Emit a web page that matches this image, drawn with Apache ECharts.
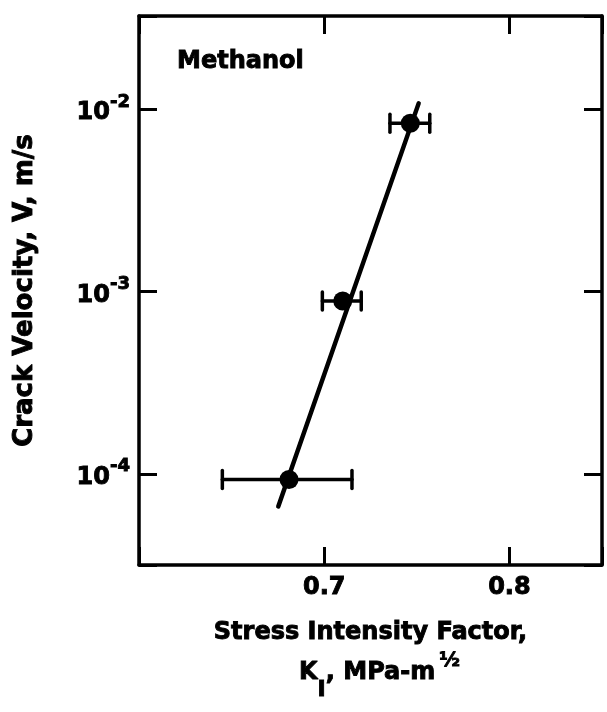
<!DOCTYPE html>
<html>
<head>
<meta charset="utf-8">
<title>Crack velocity vs stress intensity factor — Methanol</title>
<script src="https://cdn.jsdelivr.net/npm/echarts@6/dist/echarts.min.js"></script>
<style>
  html, body { margin: 0; padding: 0; background: #fff; }
  #chart { width: 607px; height: 712px; }
</style>
</head>
<body>
<div id="chart"></div>
<script>
// Measured crack velocities in methanol with the spread of K_I for each point
const kValues    = [0.681, 0.710, 0.7465];       // stress intensity factor, MPa·m^1/2
const velocities = [9.3e-5, 8.85e-4, 8.35e-3];   // crack velocity, m/s
const kLow       = [0.645, 0.699, 0.7355];       // lower end of K_I range
const kHigh      = [0.715, 0.720, 0.757];        // upper end of K_I range

// Fitted log-linear trend line (end points)
const fitK = [0.6752, 0.7510];
const fitV = [6.62e-5, 1.074e-2];

// Axis tick labels
const xTickValues = [0.7, 0.8];
const yTickExponents = [-4, -3, -2];

const FONT = '"DejaVu Sans", "Liberation Sans", Arial, sans-serif';
const INK = '#000';
// a thin outline thickens the bold lettering
const HEAVY = { textBorderColor: INK, textBorderWidth: 0.9 };

const chart = echarts.init(document.getElementById('chart'), null, { renderer: 'canvas' });

const frameLine = { show: true, lineStyle: { color: INK, width: 3.5 } };
const innerTicks = { show: true, inside: true, length: 18, lineStyle: { color: INK, width: 3 } };

function xLabel(v) {
  return xTickValues.some(t => Math.abs(t - v) < 1e-9) ? v.toFixed(1) : '';
}
function yLabel(v) {
  const e = Math.log10(v);
  const hit = yTickExponents.find(t => Math.abs(t - e) < 1e-6);
  return hit === undefined ? '' : '{b|10}{s|' + hit + '}';
}

const xBase = { type: 'value', min: 0.6, max: 0.85, interval: 0.1, splitLine: { show: false },
  axisLine: frameLine, axisTick: innerTicks };
const yBase = { type: 'log', logBase: 10, min: Math.pow(10, -4.5), max: Math.pow(10, -1.49),
  splitLine: { show: false }, minorTick: { show: false }, axisLine: frameLine, axisTick: innerTicks };

const txt = (size, extra) => Object.assign({ fontFamily: FONT, fontWeight: 'bold', fontSize: size, color: INK }, HEAVY, extra || {});

const option = {
  backgroundColor: '#fff',
  animation: false,
  title: {
    text: 'Methanol', left: 172, top: 45,
    textStyle: txt(24)
  },
  grid: { left: 139, right: 5, top: 16, bottom: 147, containLabel: false },
  xAxis: [
    Object.assign({}, xBase, {
      position: 'bottom',
      axisLabel: Object.assign({ formatter: xLabel, margin: 11 }, txt(24)),
      name: '{t|Stress Intensity Factor,}\n{k|K}{sub|I}{t|, MPa-m}{sup|½}',
      nameLocation: 'middle', nameGap: 40,
      nameTextStyle: Object.assign(txt(24), {
        rich: {
          t:   txt(24, { lineHeight: 40, align: 'center', verticalAlign: 'bottom' }),
          k:   txt(24, { lineHeight: 40, align: 'center', verticalAlign: 'bottom', padding: [0, 0, 0, 18] }),
          sub: txt(22, { lineHeight: 40, align: 'center', verticalAlign: 'bottom', padding: [0, 0, -16, 0] }),
          sup: txt(20, { lineHeight: 40, align: 'center', verticalAlign: 'top', padding: [6, 0, 0, 4] })
        }
      })
    }),
    Object.assign({}, xBase, { position: 'top', axisLabel: { show: false } })
  ],
  yAxis: [
    Object.assign({}, yBase, {
      position: 'left',
      axisLabel: {
        formatter: yLabel, margin: 9, color: INK,
        rich: {
          b: txt(24, { lineHeight: 32, verticalAlign: 'bottom' }),
          s: txt(18, { lineHeight: 32, verticalAlign: 'top' })
        }
      },
      name: 'Crack Velocity, V, m/s',
      nameLocation: 'middle', nameGap: 101, nameRotate: 90,
      nameTextStyle: txt(26)
    }),
    Object.assign({}, yBase, { position: 'right', axisLabel: { show: false } })
  ],
  series: [
    {
      name: 'fit',
      type: 'line',
      data: fitK.map((k, i) => [k, fitV[i]]),
      showSymbol: false,
      symbol: 'none',
      lineStyle: { color: INK, width: 4.5, cap: 'round' },
      z: 2
    },
    {
      name: 'K range',
      type: 'custom',
      data: kValues.map((k, i) => [kLow[i], kHigh[i], velocities[i]]),
      encode: { x: [0, 1], y: 2 },
      renderItem: function (params, api) {
        const v = api.value(2);
        const a = api.coord([api.value(0), v]);
        const b = api.coord([api.value(1), v]);
        const h = 9;
        const st = { stroke: INK, lineWidth: 3.5, lineCap: 'round' };
        return {
          type: 'group',
          children: [
            { type: 'line', shape: { x1: a[0], y1: a[1], x2: b[0], y2: b[1] }, style: st },
            { type: 'line', shape: { x1: a[0], y1: a[1] - h, x2: a[0], y2: a[1] + h }, style: st },
            { type: 'line', shape: { x1: b[0], y1: b[1] - h, x2: b[0], y2: b[1] + h }, style: st }
          ]
        };
      },
      z: 3
    },
    {
      name: 'measured',
      type: 'scatter',
      data: kValues.map((k, i) => [k, velocities[i]]),
      symbol: 'circle',
      symbolSize: 19,
      itemStyle: { color: INK, opacity: 1 },
      z: 4
    }
  ]
};

chart.setOption(option);
</script>
</body>
</html>
